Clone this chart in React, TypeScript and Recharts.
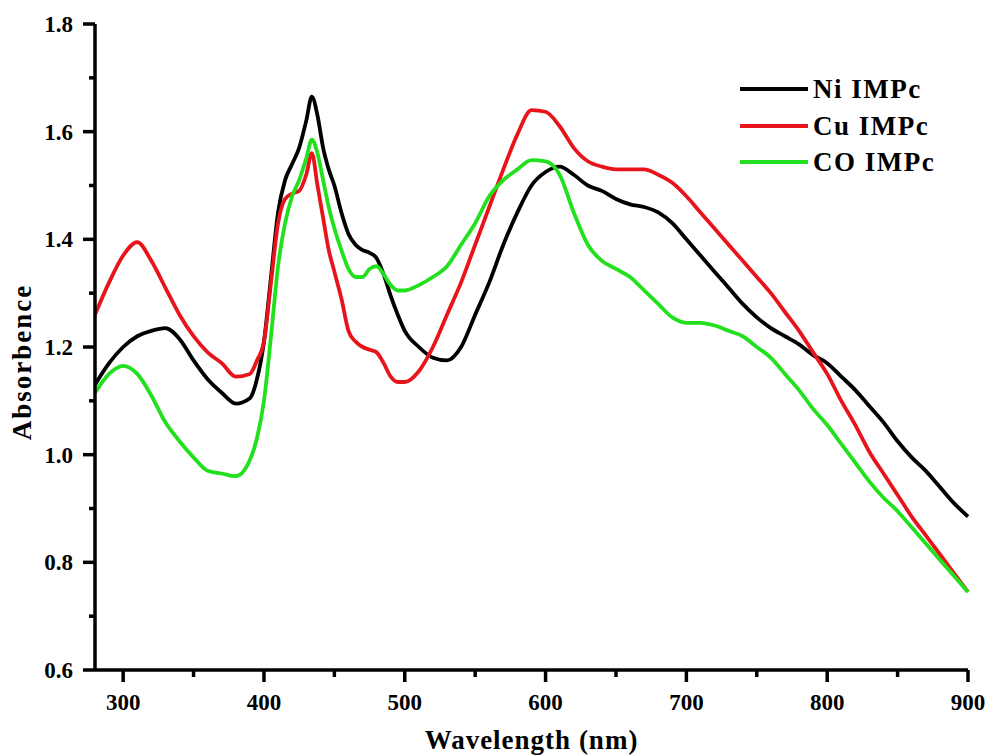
import React from "react";
import { LineChart, Line, XAxis, YAxis, Legend } from "recharts";

// Wavelength grid (nm) shared by the three spectra
const wavelengths = [
  280, 290, 300, 310, 320, 330, 340, 350, 360, 370, 380, 390, 395, 400, 405, 410,
  415, 420, 425, 430, 434, 438, 442, 446, 450, 455, 460, 465, 470, 475, 480, 485,
  490, 495, 500, 510, 520, 530, 540, 550, 560, 570, 580, 590, 600, 610, 620, 630,
  640, 650, 660, 670, 680, 690, 700, 710, 720, 730, 740, 750, 760, 770, 780, 790,
  800, 810, 820, 830, 840, 850, 860, 870, 880, 890, 900,
];

const niAbs = [
  1.13, 1.17, 1.2, 1.22, 1.23, 1.235, 1.215, 1.175, 1.14, 1.115, 1.095, 1.105, 1.14, 1.21, 1.33, 1.45,
  1.51, 1.54, 1.57, 1.62, 1.665, 1.63, 1.57, 1.53, 1.5, 1.45, 1.41, 1.39, 1.38, 1.375, 1.365, 1.335,
  1.295, 1.26, 1.23, 1.2, 1.18, 1.175, 1.2, 1.26, 1.32, 1.39, 1.45, 1.5, 1.525, 1.535, 1.52, 1.5,
  1.49, 1.475, 1.465, 1.46, 1.45, 1.43, 1.4, 1.37, 1.34, 1.31, 1.28, 1.255, 1.235, 1.22, 1.205, 1.185,
  1.17, 1.145, 1.12, 1.09, 1.06, 1.025, 0.995, 0.97, 0.94, 0.91, 0.885,
];

const cuAbs = [
  1.26, 1.32, 1.37, 1.395, 1.36, 1.31, 1.26, 1.22, 1.19, 1.17, 1.145, 1.15, 1.175, 1.21, 1.32, 1.43,
  1.475, 1.485, 1.49, 1.52, 1.56, 1.5, 1.44, 1.38, 1.34, 1.29, 1.23, 1.21, 1.2, 1.195, 1.19, 1.17,
  1.145, 1.135, 1.135, 1.155, 1.2, 1.26, 1.32, 1.39, 1.46, 1.53, 1.595, 1.64, 1.637, 1.61, 1.57, 1.545,
  1.535, 1.53, 1.53, 1.53, 1.52, 1.505, 1.48, 1.45, 1.42, 1.39, 1.36, 1.33, 1.3, 1.265, 1.23, 1.19,
  1.15, 1.1, 1.055, 1.005, 0.965, 0.925, 0.885, 0.85, 0.815, 0.78, 0.745,
];

const coAbs = [
  1.115, 1.15, 1.165, 1.15, 1.11, 1.06, 1.025, 0.995, 0.97, 0.965, 0.96, 0.99, 1.03, 1.1, 1.22, 1.35,
  1.43, 1.48, 1.51, 1.55, 1.585, 1.56, 1.51, 1.46, 1.42, 1.38, 1.345, 1.33, 1.33, 1.345, 1.35, 1.335,
  1.315, 1.305, 1.305, 1.315, 1.33, 1.35, 1.39, 1.43, 1.48, 1.51, 1.53, 1.547, 1.545, 1.52, 1.45, 1.39,
  1.36, 1.345, 1.33, 1.305, 1.28, 1.255, 1.245, 1.245, 1.24, 1.23, 1.22, 1.2, 1.18, 1.15, 1.12, 1.085,
  1.055, 1.02, 0.985, 0.95, 0.92, 0.895, 0.865, 0.835, 0.805, 0.775, 0.745,
];

const seriesNames = ["Ni IMPc", "Cu IMPc", "CO IMPc"];
const xTicks = [300, 350, 400, 450, 500, 550, 600, 650, 700, 750, 800, 850, 900];
const yTicks = [0.6, 0.7, 0.8, 0.9, 1.0, 1.1, 1.2, 1.3, 1.4, 1.5, 1.6, 1.7, 1.8];

const data = wavelengths.map((w, i) => ({
  w,
  ni: niAbs[i],
  cu: cuAbs[i],
  co: coAbs[i],
}));

const FONT = '"Liberation Serif", "Times New Roman", serif';
const AXIS_W = 3.5;

const XTick = (props: any) => {
  const { x, y, payload } = props;
  const major = payload.value % 100 === 0;
  return (
    <g>
      <line x1={x} x2={x} y1={y} y2={y + (major ? 12 : 7)} stroke="#000" strokeWidth={AXIS_W} />
      {major && (
        <text x={x} y={y + 40} textAnchor="middle" fontFamily={FONT} fontWeight="bold" fontSize={23} fill="#000">
          {payload.value}
        </text>
      )}
    </g>
  );
};

const YTick = (props: any) => {
  const { x, y, payload } = props;
  const major = Math.round(payload.value * 10) % 2 === 0;
  return (
    <g>
      <line x1={x} x2={x - (major ? 12 : 6)} y1={y} y2={y} stroke="#000" strokeWidth={AXIS_W} />
      {major && (
        <text x={x - 22} y={y + 8} textAnchor="end" fontFamily={FONT} fontWeight="bold" fontSize={23} fill="#000">
          {payload.value.toFixed(1)}
        </text>
      )}
    </g>
  );
};

// legend rows kept in series order (Ni, Cu, CO)
const LegendBox = (props: any) => {
  const items = [...(props.payload || [])].sort(
    (a: any, b: any) => seriesNames.indexOf(a.value) - seriesNames.indexOf(b.value)
  );
  return (
    <div>
      {items.map((entry: any) => (
        <div key={entry.value} style={{ display: "flex", alignItems: "center", height: 36.5 }}>
          <span style={{ display: "inline-block", width: 68, height: 4, background: entry.color }} />
          <span
            style={{
              marginLeft: 5,
              fontFamily: FONT,
              fontWeight: "bold",
              fontSize: 27,
              letterSpacing: 1.5,
              color: "#000",
              lineHeight: "36px",
            }}
          >
            {entry.value}
          </span>
        </div>
      ))}
    </div>
  );
};

export default function App() {
  return (
    <div style={{ position: "absolute", left: 0, top: 0, background: "#fff" }}>
      <LineChart width={988} height={755} data={data} margin={{ top: 24, right: 20, bottom: 0, left: 0 }}>
        <XAxis
          dataKey="w"
          type="number"
          domain={[280, 900]}
          ticks={xTicks}
          interval={0}
          height={85}
          tickSize={0}
          tickMargin={0}
          tick={<XTick />}
          axisLine={{ stroke: "#000", strokeWidth: AXIS_W }}
          label={{
            content: (p: any) => {
              const vb = p.viewBox || { x: 95, y: 670, width: 873 };
              return (
                <text
                  x={vb.x + vb.width / 2}
                  y={vb.y + 79}
                  textAnchor="middle"
                  fontFamily={FONT}
                  fontWeight="bold"
                  fontSize={27}
                  letterSpacing={1}
                  fill="#000"
                >
                  Wavelength (nm)
                </text>
              );
            },
          }}
        />
        <XAxis
          xAxisId="top"
          orientation="top"
          dataKey="w"
          type="number"
          domain={[280, 900]}
          height={0}
          tick={false}
          tickLine={false}
          axisLine={{ stroke: "#000", strokeWidth: AXIS_W }}
        />
        <YAxis
          type="number"
          domain={[0.6, 1.8]}
          ticks={yTicks}
          interval={0}
          width={95}
          tickSize={0}
          tickMargin={0}
          tick={<YTick />}
          axisLine={{ stroke: "#000", strokeWidth: AXIS_W }}
          label={{
            content: () => (
              <text
                transform="translate(31, 362) rotate(-90)"
                textAnchor="middle"
                fontFamily={FONT}
                fontWeight="bold"
                fontSize={27}
                letterSpacing={2}
                fill="#000"
              >
                Absorbence
              </text>
            ),
          }}
        />
        <YAxis
          yAxisId="right"
          orientation="right"
          type="number"
          domain={[0.6, 1.8]}
          width={0}
          tick={false}
          tickLine={false}
          axisLine={{ stroke: "#000", strokeWidth: AXIS_W }}
        />
        <Legend
          layout="horizontal"
          verticalAlign="middle"
          align="center"
          content={<LegendBox />}
          wrapperStyle={{ left: 740, top: 71, width: 220, height: 112 }}
        />
        <Line
          type="monotone"
          dataKey="ni"
          name="Ni IMPc"
          stroke="#000000"
          strokeWidth={3.8}
          dot={false}
          isAnimationActive={false}
        />
        <Line
          type="monotone"
          dataKey="cu"
          name="Cu IMPc"
          stroke="#e8141c"
          strokeWidth={3.8}
          dot={false}
          isAnimationActive={false}
        />
        <Line
          type="monotone"
          dataKey="co"
          name="CO IMPc"
          stroke="#22e01e"
          strokeWidth={3.8}
          dot={false}
          isAnimationActive={false}
        />
      </LineChart>
    </div>
  );
}
